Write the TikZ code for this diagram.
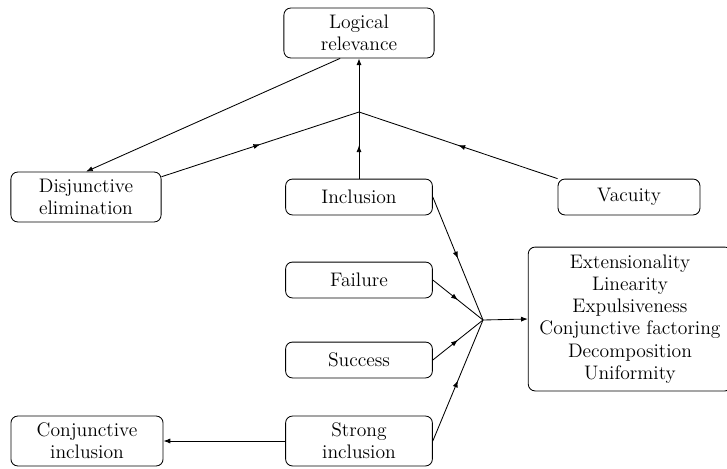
\documentclass[tikz,border=0pt]{standalone}
\usetikzlibrary{arrows.meta, decorations.markings}
\tikzset{
  font=\fontsize{11.5}{13.1}\selectfont,
  >={Latex[length=4pt, width=3pt]},
  %
  box/.style={draw, line width=0.5pt, rounded corners=4pt, align=center,
              inner sep=3pt, minimum height=0.74cm},
  boxtall/.style={box, minimum height=1.03cm},
  %
  link/.style={draw, line width=0.5pt},
  midarrow/.style={link, postaction={decorate},
    decoration={markings, mark=at position 0.5 with {\arrow{>}}}},
}

\begin{document}
\begin{tikzpicture}[x=0.02064cm, y=-0.02064cm]

  \useasboundingbox (0,0) rectangle (727,468);

  % --- the principles ----------------------------------------------------
  \node[boxtall, minimum width=3.1cm]  (rel)    at (359,33)  {Logical\\relevance};
  \node[boxtall, minimum width=3.1cm]  (dis)    at (86,197)  {Disjunctive\\elimination};
  \node[box,     minimum width=3.03cm] (inc)    at (359,197) {Inclusion};
  \node[box,     minimum width=2.93cm] (vac)    at (629,197) {Vacuity};
  \node[box,     minimum width=3.03cm] (fail)   at (359,280) {Failure};
  \node[box,     minimum width=3.03cm] (succ)   at (359,360) {Success};
  \node[boxtall, minimum width=3.03cm] (strong) at (359,441) {Strong\\inclusion};
  \node[boxtall, minimum width=3.14cm] (conj)   at (87,441)  {Conjunctive\\inclusion};

  \node[box, minimum width=4.2cm, minimum height=2.97cm] (props) at (630,319)
    {Extensionality\\Linearity\\Expulsiveness\\Conjunctive factoring\\Decomposition\\Uniformity};

  % --- joins -------------------------------------------------------------
  \coordinate (up)  at (359,112);
  \coordinate (fan) at (483,320);

  % --- upper group -------------------------------------------------------
  \draw[midarrow] ([yshift=-3pt]dis.north east) -- (up);
  \draw[midarrow] (vac.north west) -- (up);
  \draw[midarrow] (inc.north) -- (up);
  \draw[link, ->] (up) -- (rel.south);
  \draw[link, ->] ([xshift=-0.39cm]rel.south) -- (dis.north);

  % --- lower group -------------------------------------------------------
  \foreach \n in {inc, fail, succ, strong}
    \draw[midarrow] (\n.east) -- (fan);
  \draw[link, ->] (fan) -- (props.west);
  \draw[link, ->] (strong.west) -- (conj.east);

\end{tikzpicture}
\end{document}
